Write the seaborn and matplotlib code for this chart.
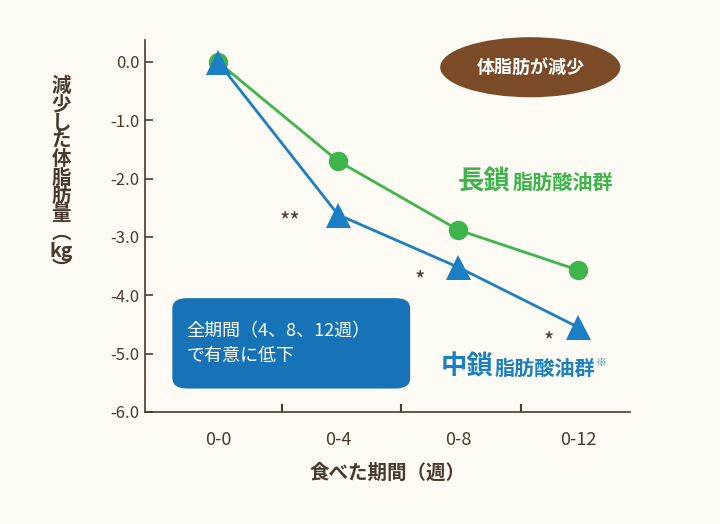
import matplotlib
matplotlib.use("Agg")
import matplotlib.pyplot as plt
import seaborn as sns
import pandas as pd
from matplotlib.patches import FancyBboxPatch, Ellipse

plt.rcParams["font.family"] = "Noto Sans CJK JP"

# データ
periods = ["0-0", "0-4", "0-8", "0-12"]
long_chain = [0.0, -1.7, -2.88, -3.57]
medium_chain = [0.0, -2.62, -3.52, -4.55]
yticks = [0.0, -1.0, -2.0, -3.0, -4.0, -5.0, -6.0]

green = "#3db54a"
blue = "#1b7fc4"
brown = "#4a3a2e"
bg = "#fdfbf4"

df = pd.DataFrame({"period": list(range(len(periods))) * 2,
                   "value": long_chain + medium_chain,
                   "group": ["long"] * 4 + ["medium"] * 4})

fig = plt.figure(figsize=(7.2, 5.24), dpi=100, facecolor=bg)
ax = fig.add_axes([0.201, 0.214, 0.674, 0.71], facecolor=bg)

sns.lineplot(data=df[df.group == "long"], x="period", y="value", color=green, marker="o",
             markersize=14, linewidth=2, markeredgewidth=0, ax=ax)
sns.lineplot(data=df[df.group == "medium"], x="period", y="value", color=blue, marker="^",
             markersize=18, linewidth=2, markeredgewidth=0, ax=ax)

ax.set_xlim(-0.61, 3.43)
ax.set_ylim(-6.0, 0.38)
ax.set_xticks(range(len(periods)))
ax.set_xticklabels(periods, fontsize=13, color=brown)
ax.set_xticks([0.53, 1.52, 2.52], minor=True)
ax.tick_params(axis="x", which="major", length=0, pad=14)
ax.tick_params(axis="x", which="minor", length=6, width=1.5, color=brown, direction="in", pad=0)
ax.set_yticks(yticks)
ax.set_yticklabels([f"{v:.1f}" for v in yticks], fontsize=12, color=brown)
ax.tick_params(axis="y", length=6, width=1.2, color=brown, direction="in")
for s in ["top", "right"]:
    ax.spines[s].set_visible(False)
for s in ["left", "bottom"]:
    ax.spines[s].set_color(brown)
    ax.spines[s].set_linewidth(1.2)
ax.set_xlabel("食べた期間（週）", fontsize=14, fontweight="bold", color=brown, labelpad=10)
ax.set_ylabel("")
fig.text(0.085, 0.66, "減\n少\nし\nた\n体\n脂\n肪\n量\n︵\nkg\n︶", fontsize=14, fontweight="bold",
         color=brown, ha="center", va="center", linespacing=0.95)

# 注記
ax.text(0.6, -2.75, "**", fontsize=16, color=brown, ha="center", va="center")
ax.text(1.68, -3.75, "*", fontsize=16, color=brown, ha="center", va="center")
ax.text(2.75, -4.8, "*", fontsize=16, color=brown, ha="center", va="center")

ax.annotate("長鎖", (2.0, -2.04), fontsize=19, fontweight="bold", color=green, va="center", ha="left")
ax.annotate("脂肪酸油群", (2.0, -2.04), xytext=(39, -1), textcoords="offset points",
            fontsize=14.5, fontweight="bold", color=green, va="center", ha="left")
ax.annotate("中鎖", (1.85, -5.23), fontsize=19, fontweight="bold", color=blue, va="center", ha="left")
ax.annotate("脂肪酸油群", (1.85, -5.23), xytext=(39, -1), textcoords="offset points",
            fontsize=14.5, fontweight="bold", color=blue, va="center", ha="left")
ax.annotate("※", (1.85, -5.23), xytext=(112, 3), textcoords="offset points",
            fontsize=8, color=blue, va="center", ha="left")

box = FancyBboxPatch((-0.38, -5.6), 1.98, 1.55, boxstyle="round,pad=0,rounding_size=0.12",
                     facecolor="#1673b8", edgecolor="none", mutation_aspect=1.5)
ax.add_patch(box)
ax.text(-0.26, -4.83, "全期間（4、8、12週）\nで有意に低下", fontsize=13, color="white",
        ha="left", va="center", linespacing=1.5)

ax.add_patch(Ellipse((2.6, -0.09), 1.5, 1.03, facecolor="#7b4b28", edgecolor="none", clip_on=False))
ax.text(2.6, -0.09, "体脂肪が減少", fontsize=13, fontweight="bold", color="white", ha="center", va="center")

fig.savefig("out.png", dpi=100, facecolor=bg)
